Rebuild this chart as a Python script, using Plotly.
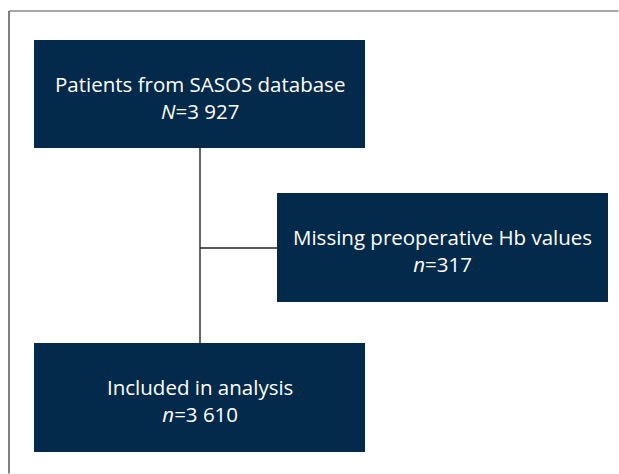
import plotly.graph_objects as go

# Flowchart data
box_titles = ["Patients from SASOS database", "Missing preoperative Hb values", "Included in analysis"]
count_symbols = ["N", "n", "n"]
count_values = ["3 927", "317", "3 610"]

# Box geometry (x0, x1, y0, y1) in page-pixel axis units
box_x0 = [34, 277, 34]
box_x1 = [365, 608, 365]
box_y0 = [40, 193, 343]
box_y1 = [148, 302, 452]

NAVY = "#03294b"
W, H = 619, 474

fig = go.Figure()
shapes = []

# outer frame (only top/left visible)
shapes.append(dict(type="line", x0=9, y0=11, x1=W - 0.5, y1=11, line=dict(color="#8a8a8a", width=1.5)))
shapes.append(dict(type="line", x0=9, y0=11, x1=9, y1=H - 0.5, line=dict(color="#555555", width=1.5)))

# connectors
cx = (box_x0[0] + box_x1[0]) / 2 + 0.5
shapes.append(dict(type="line", x0=cx, y0=box_y1[0], x1=cx, y1=box_y0[2], line=dict(color="#333333", width=1.5)))
ymid = (box_y0[1] + box_y1[1]) / 2 + 0.5
shapes.append(dict(type="line", x0=cx, y0=ymid, x1=box_x0[1], y1=ymid, line=dict(color="#222222", width=1.5)))

for i in range(3):
    shapes.append(dict(type="rect", x0=box_x0[i], x1=box_x1[i], y0=box_y0[i], y1=box_y1[i],
                       fillcolor=NAVY, line=dict(width=0), layer="above"))

annotations = []
for i in range(3):
    xc = (box_x0[i] + box_x1[i]) / 2
    yc = (box_y0[i] + box_y1[i]) / 2
    annotations.append(dict(
        x=xc, y=yc + 3, xref="x", yref="y",
        text=f"{box_titles[i]}<br><i>{count_symbols[i]}</i>={count_values[i]}",
        showarrow=False, align="center",
        font=dict(family="Open Sans", size=20.5, color="white"),
    ))

fig.update_layout(
    width=W, height=H,
    margin=dict(l=0, r=0, t=0, b=0),
    paper_bgcolor="white", plot_bgcolor="white",
    xaxis=dict(range=[0, W], visible=False, fixedrange=True),
    yaxis=dict(range=[H, 0], visible=False, fixedrange=True),
    shapes=shapes, annotations=annotations, showlegend=False,
)
fig.write_html(
    "out.html",
    config={"displayModeBar": False},
    post_script="document.body.style.margin='0';document.body.style.overflow='hidden';",
)
